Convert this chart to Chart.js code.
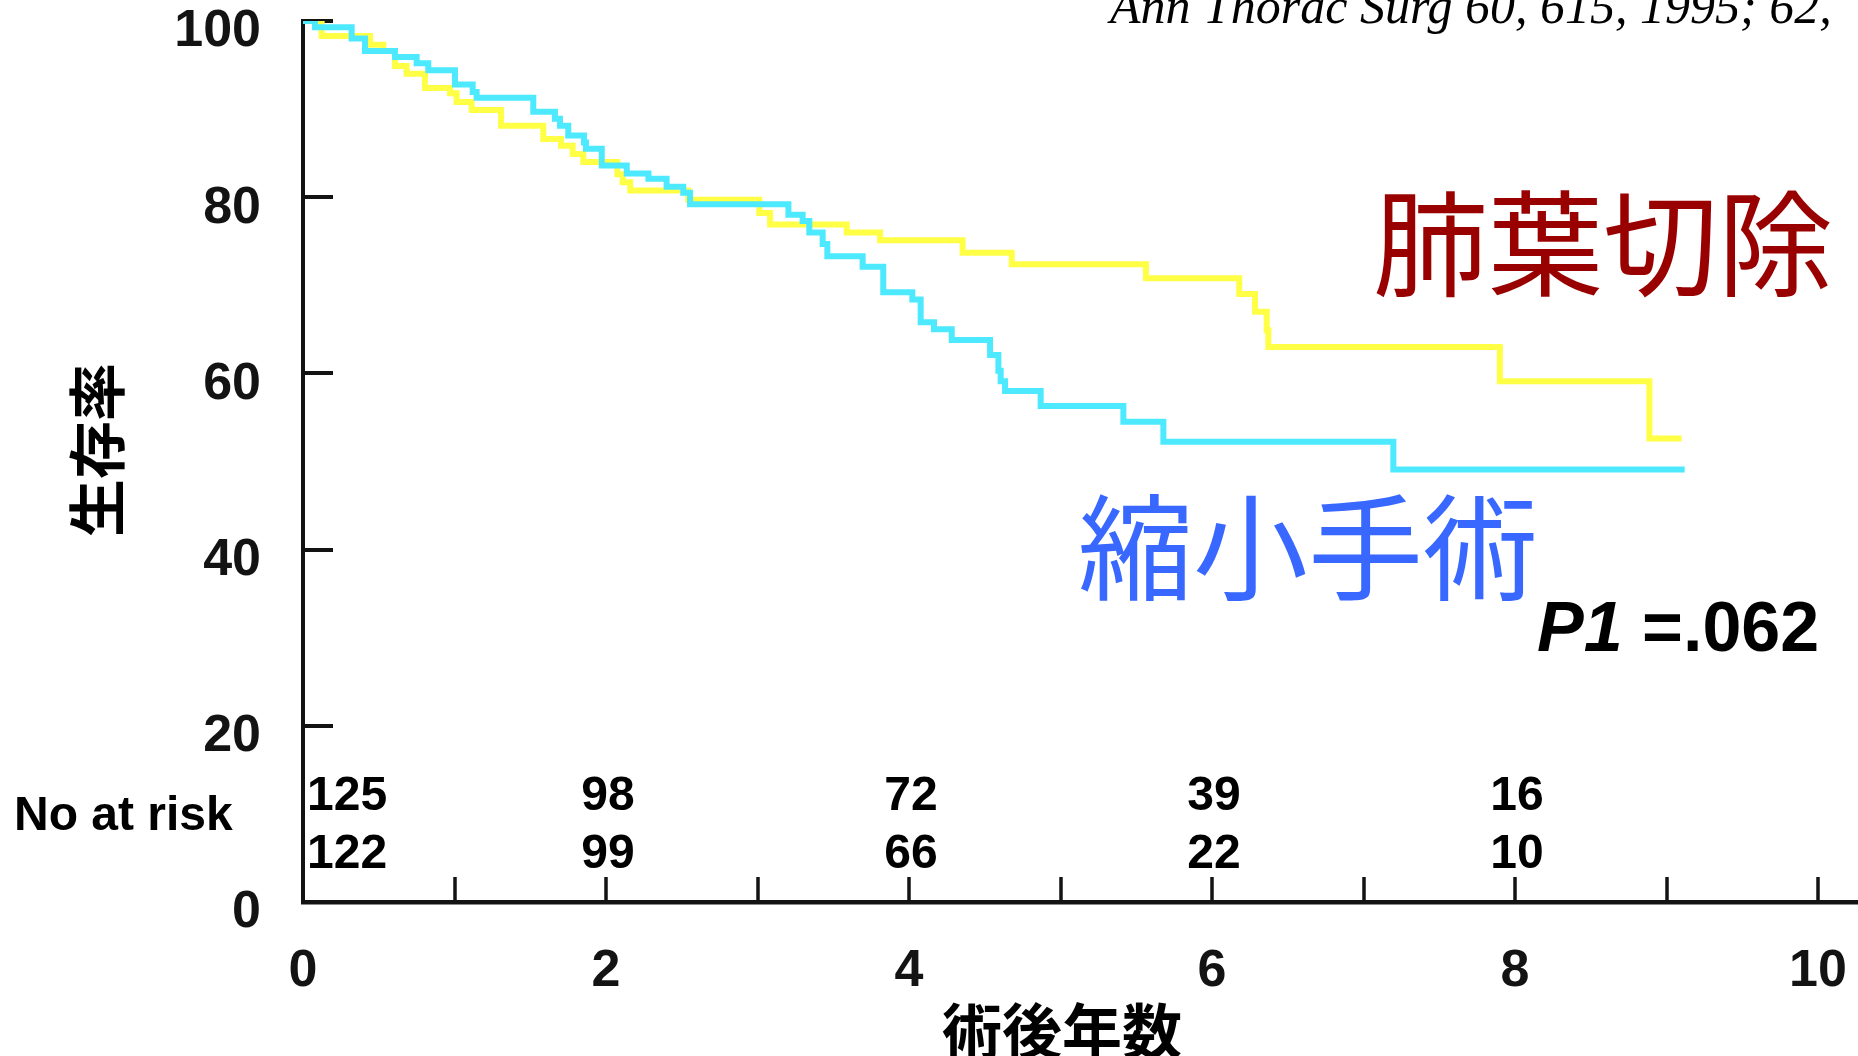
<!DOCTYPE html>
<html lang="ja">
<head>
<meta charset="utf-8">
<title>生存率</title>
<script src="https://cdn.jsdelivr.net/npm/chart.js@4.4.1/dist/chart.umd.min.js"></script>
<style>
  html, body { margin: 0; padding: 0; background: #ffffff; overflow: hidden; }
  canvas { display: block; }
</style>
</head>
<body>
<canvas id="km" width="1858" height="1056"></canvas>
<script>
// Kaplan-Meier estimates: time of each drop (years) and survival (%) after it
const lobectomyYears = [0, 0.123, 0.442, 0.53, 0.607, 0.684, 0.805, 0.970, 1.014, 1.113, 1.307, 1.586, 1.703, 1.780, 1.850, 2.075, 2.11, 2.16, 2.543, 3.012, 3.083, 3.589, 3.809, 4.354, 4.678, 5.564, 6.18, 6.284, 6.361, 6.372, 7.90, 8.887, 9.10];
const lobectomySurvival = [100, 98.3, 97.3, 96.6, 94.9, 94.0, 92.4, 91.8, 90.8, 89.9, 88.1, 86.6, 85.85, 84.9, 84.0, 82.6, 81.7, 80.75, 79.7, 78.2, 76.9, 76.0, 75.1, 73.7, 72.4, 70.8, 69.0, 67.0, 64.9, 63.0, 59.1, 52.6, 52.6];

const limitedYears = [0, 0.079, 0.321, 0.409, 0.607, 0.750, 0.827, 1.003, 1.12, 1.146, 1.52, 1.663, 1.696, 1.751, 1.855, 1.868, 1.972, 2.137, 2.28, 2.40, 2.51, 2.555, 3.204, 3.298, 3.342, 3.43, 3.461, 3.694, 3.83, 4.022, 4.077, 4.165, 4.282, 4.535, 4.59, 4.605, 4.634, 4.869, 5.415, 5.679, 7.197, 9.12];
const limitedSurvival = [100, 99.3, 98.0, 96.6, 95.9, 95.2, 94.4, 92.8, 91.95, 91.3, 89.7, 88.9, 88.1, 87.0, 86.2, 85.5, 83.6, 82.7, 82.1, 81.2, 80.5, 79.2, 78.0, 77.3, 76.0, 74.7, 73.3, 72.1, 69.2, 68.4, 65.8, 65.0, 63.8, 62.1, 60.3, 59.1, 58.0, 56.3, 54.5, 52.25, 49.1, 49.1];

// Axis ticks
const yTickValues = [0, 20, 40, 60, 80, 100];
const xTickValues = [0, 1, 2, 3, 4, 5, 6, 7, 8, 9, 10];
const xLabelValues = [0, 2, 4, 6, 8, 10];

// Numbers at risk
const riskYears = [0, 2, 4, 6, 8];
const riskLobectomy = [125, 98, 72, 39, 16];
const riskLimited = [122, 99, 66, 22, 10];

// Texts
const groupNames = ['肺葉切除', '縮小手術'];
const yAxisTitle = '生存率';
const xAxisTitle = '術後年数';
const riskTitle = 'No at risk';
const citation = 'Ann Thorac Surg 60, 615, 1995; 62,';
const pName = 'P1';
const pValue = ' =.062';

const SANS = '"Liberation Sans", Arial, Helvetica, sans-serif';
const SERIF = '"Liberation Serif", "Times New Roman", serif';
const CJK = '"Noto Sans CJK JP", "Noto Sans CJK SC", sans-serif';
const INK = '#131313';

const toPoints = (xs, ys) => xs.map((t, i) => ({ x: t, y: ys[i] }));

// Inward tick marks, drawn beneath the curves
const tickMarks = {
  id: 'tickMarks',
  beforeDatasetsDraw(chart) {
    const { ctx, chartArea, scales: { x, y } } = chart;
    ctx.save();
    ctx.strokeStyle = INK;
    ctx.lineCap = 'butt';
    ctx.lineWidth = 4;
    yTickValues.filter(v => v > 0).forEach(v => {
      const py = Math.round(y.getPixelForValue(v));
      ctx.beginPath();
      ctx.moveTo(chartArea.left, py);
      ctx.lineTo(chartArea.left + 30, py);
      ctx.stroke();
    });
    ctx.lineWidth = 3.5;
    xTickValues.filter(v => v > 0).forEach(v => {
      const px = Math.round(x.getPixelForValue(v));
      ctx.beginPath();
      ctx.moveTo(px, chartArea.bottom);
      ctx.lineTo(px, chartArea.bottom - 25);
      ctx.stroke();
    });
    ctx.restore();
  }
};

// Titles, group names, p value and the at-risk table
const annotations = {
  id: 'annotations',
  afterDraw(chart) {
    const { ctx, chartArea, scales: { x } } = chart;
    ctx.save();

    // citation along the top edge
    ctx.fillStyle = '#000';
    ctx.textAlign = 'left';
    ctx.textBaseline = 'alphabetic';
    ctx.font = 'italic 50px ' + SERIF;
    ctx.fillText(citation, 1110, 23);

    // group names
    ctx.textBaseline = 'middle';
    ctx.font = '115px ' + CJK;
    ctx.fillStyle = '#990000';
    ctx.fillText(groupNames[0], 1373, 243);
    ctx.fillStyle = '#3868ff';
    ctx.fillText(groupNames[1], 1078, 547);

    // p value
    ctx.fillStyle = '#000';
    ctx.textBaseline = 'alphabetic';
    ctx.font = 'italic bold 70px ' + SANS;
    ctx.fillText(pName, 1537, 651);
    const w = ctx.measureText(pName).width;
    ctx.font = 'bold 70px ' + SANS;
    ctx.fillText(pValue, 1537 + w, 651);

    // numbers at risk
    ctx.textBaseline = 'middle';
    ctx.font = 'bold 48px ' + SANS;
    ctx.fillText(riskTitle, 14, 817);
    const rowTop = chartArea.bottom - 105;
    const rowBottom = chartArea.bottom - 47;
    riskYears.forEach((t, i) => {
      const px = x.getPixelForValue(t);
      if (t === 0) {
        ctx.textAlign = 'left';
        ctx.fillText(String(riskLobectomy[i]), px + 4, rowTop);
        ctx.fillText(String(riskLimited[i]), px + 4, rowBottom);
      } else {
        ctx.textAlign = 'center';
        ctx.fillText(String(riskLobectomy[i]), px + 2, rowTop);
        ctx.fillText(String(riskLimited[i]), px + 2, rowBottom);
      }
    });

    // axis titles
    ctx.textAlign = 'center';
    ctx.font = 'bold 58px ' + CJK;
    ctx.save();
    ctx.translate(97, 450);
    ctx.rotate(-Math.PI / 2);
    ctx.fillText(yAxisTitle, 0, 0);
    ctx.restore();
    ctx.font = 'bold 60px ' + CJK;
    ctx.fillText(xAxisTitle, 1062, 1031);

    ctx.restore();
  }
};

new Chart(document.getElementById('km'), {
  type: 'line',
  data: {
    datasets: [
      {
        label: groupNames[1],
        data: toPoints(limitedYears, limitedSurvival),
        borderColor: '#4de9ff',
        borderWidth: 6,
        stepped: 'before',
        order: 0
      },
      {
        label: groupNames[0],
        data: toPoints(lobectomyYears, lobectomySurvival),
        borderColor: '#ffff45',
        borderWidth: 6,
        stepped: 'before',
        order: 1
      }
    ]
  },
  options: {
    responsive: false,
    animation: false,
    devicePixelRatio: 1,
    layout: { padding: { top: 21, left: 0, right: 0, bottom: 0 } },
    elements: {
      point: { radius: 0, hoverRadius: 0 },
      line: { fill: false, tension: 0, borderJoinStyle: 'miter', borderCapStyle: 'butt' }
    },
    plugins: { legend: { display: false }, tooltip: { enabled: false } },
    events: [],
    scales: {
      x: {
        type: 'linear',
        min: 0,
        max: 10.264,
        afterBuildTicks(scale) { scale.ticks = xTickValues.map(v => ({ value: v })); },
        afterFit(scale) {
          scale.height = 154;
          scale.paddingLeft = 0;
          scale.paddingRight = 0;
        },
        ticks: {
          autoSkip: false,
          maxRotation: 0,
          padding: 38,
          color: INK,
          font: { family: SANS, size: 52, weight: 'bold' },
          callback: v => (xLabelValues.includes(v) ? String(v) : '')
        },
        grid: { display: false, drawTicks: false },
        border: { display: true, color: INK, width: 4.5 }
      },
      y: {
        type: 'linear',
        min: 0,
        max: 100,
        afterBuildTicks(scale) { scale.ticks = yTickValues.map(v => ({ value: v })); },
        afterFit(scale) {
          scale.width = 303;
          scale.paddingTop = 0;
          scale.paddingBottom = 0;
        },
        ticks: {
          padding: 42,
          labelOffset: 11,
          color: INK,
          font: { family: SANS, size: 52, weight: 'bold' },
          callback: v => String(v)
        },
        grid: { display: false, drawTicks: false },
        border: { display: true, color: INK, width: 4 }
      }
    }
  },
  plugins: [tickMarks, annotations]
});
</script>
</body>
</html>
